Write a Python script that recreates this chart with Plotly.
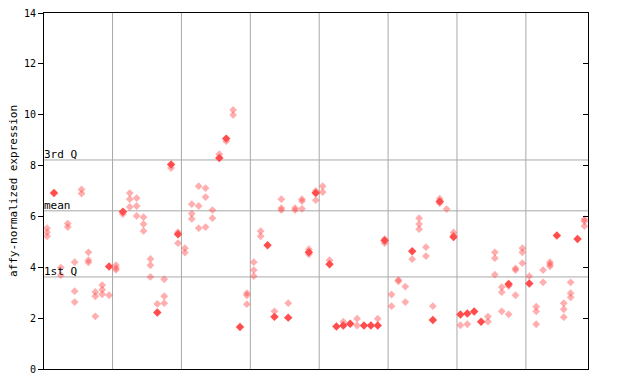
import plotly.graph_objects as go

# Per-sample expression values (sample index 0..78), open = other replicates, filled = highlighted
open_vals = [
    [5.54, 5.38, 5.22], [], [3.99, 3.69], [5.72, 5.58], [4.2, 3.06, 2.63],
    [7.06, 6.9], [4.59, 4.28, 4.19], [3.03, 2.86, 2.07], [3.3, 3.12, 2.94], [2.9],
    [4.08, 3.97, 3.9], [6.09], [6.92, 6.68, 6.37], [6.72, 6.41, 6.02], [5.97, 5.7, 5.43],
    [4.33, 4.08, 3.62], [2.56], [3.53, 2.86, 2.59], [7.9], [5.38, 4.95],
    [4.75, 4.58], [6.48, 6.11, 5.9], [7.19, 6.41, 5.54], [7.11, 6.76, 5.58], [6.25, 5.93],
    [8.45], [8.96], [10.19, 9.99], [], [2.98, 2.9, 2.55],
    [4.2, 3.89, 3.65], [5.42, 5.22], [], [2.27], [6.68, 6.33, 6.25],
    [2.59], [6.33, 6.25], [6.68, 6.6, 6.3], [4.71, 4.51], [7.0, 6.64],
    [7.19, 6.96], [4.28], [], [1.86], [],
    [1.98, 1.71], [], [], [1.98], [5.11, 4.95],
    [2.93, 2.47], [3.5, 3.45], [3.24, 2.63], [4.32], [5.93, 5.7, 5.5],
    [4.79, 4.44], [2.47], [6.7, 6.52], [6.29], [5.37, 5.25],
    [1.72], [1.76], [], [], [2.06, 1.86],
    [4.59, 4.36, 3.71], [3.22, 3.02, 2.27], [3.37, 3.26, 2.15], [3.96, 3.89, 2.9], [4.75, 4.59, 4.16],
    [3.65], [2.45, 2.27, 1.76], [3.89, 3.41], [4.2, 4.12, 4.04], [],
    [2.59, 2.35, 2.04], [3.41, 2.98, 2.82], [], [5.89, 5.81, 5.62],
]
filled_vals = [
    [], [6.92], [], [], [], [], [], [], [], [4.03],
    [], [6.18], [], [], [], [], [2.22], [], [8.04], [5.3],
    [], [], [], [], [], [8.3], [9.06], [], [1.65], [],
    [], [], [4.87], [2.05], [], [2.02], [], [], [4.59], [6.92],
    [], [4.12], [1.67], [1.71], [1.78], [], [1.71], [1.71], [1.71], [5.05],
    [], [], [], [4.63], [], [], [1.93], [6.59], [], [5.19],
    [2.14], [2.18], [2.26], [1.86], [], [], [], [3.33], [], [],
    [3.36], [], [], [], [5.25], [], [], [5.11], [],
]
group_sizes = [10, 10, 10, 10, 10, 10, 10, 9]
quartiles = {"3rd Q": 8.22, "mean": 6.22, "1st Q": 3.62}
y_ticks = [0, 2, 4, 6, 8, 10, 12, 14]

RED = "#ff4d4d"
FONT = "DejaVu Sans Mono"

ox, oy, fx, fy = [], [], [], []
for i, vals in enumerate(open_vals):
    ox += [i] * len(vals)
    oy += vals
for i, vals in enumerate(filled_vals):
    fx += [i] * len(vals)
    fy += vals

fig = go.Figure()
fig.add_trace(go.Scatter(x=ox, y=oy, mode="markers",
                         marker=dict(symbol="diamond", size=6, color="rgba(255,77,77,0.45)",
                                     line=dict(width=0)),
                         showlegend=False))
fig.add_trace(go.Scatter(x=fx, y=fy, mode="markers",
                         marker=dict(symbol="diamond", size=6.5, color=RED, line=dict(width=0)),
                         showlegend=False))
# invisible trace for right-side axis ticks
fig.add_trace(go.Scatter(x=[0], y=[0], yaxis="y2", mode="markers",
                         marker=dict(opacity=0), showlegend=False, hoverinfo="skip"))

shapes = []
boundary = -0.5
for g in group_sizes[:-1]:
    boundary += g
    shapes.append(dict(type="line", xref="x", yref="paper", x0=boundary, x1=boundary,
                       y0=0, y1=1, line=dict(color="#a8a8a8", width=1), layer="below"))
annotations = []
for label, val in quartiles.items():
    shapes.append(dict(type="line", xref="paper", yref="y", x0=0, x1=1, y0=val, y1=val,
                       line=dict(color="#a8a8a8", width=1), layer="below"))
    annotations.append(dict(x=0, xref="paper", y=val, yref="y", text=label, showarrow=False,
                            xanchor="left", yanchor="bottom", yshift=-3, xshift=-2,
                            font=dict(family=FONT, size=11, color="black")))

n = sum(group_sizes)
fig.update_layout(
    width=640, height=384,
    margin=dict(l=44, r=52, t=13, b=15),
    paper_bgcolor="white", plot_bgcolor="white",
    xaxis=dict(range=[-0.45, n - 0.48], showticklabels=False, ticks="", showgrid=False,
               zeroline=False, showline=True, linecolor="black", linewidth=1, mirror=True,
               automargin=False),
    yaxis=dict(range=[0, 14], tickvals=y_ticks, ticks="outside", ticklen=5, tickcolor="black",
               showgrid=False, zeroline=False, showline=True, linecolor="black", linewidth=1,
               mirror=True, automargin=False, tickfont=dict(family=FONT, size=10, color="black"),
               title=dict(text="affy-normalized expression", standoff=4,
                          font=dict(family=FONT, size=11, color="black"))),
    yaxis2=dict(range=[0, 14], tickvals=y_ticks, overlaying="y", side="right", ticks="inside",
                ticklen=5, tickcolor="black", showticklabels=False, showgrid=False,
                zeroline=False, showline=False, automargin=False),
    shapes=shapes, annotations=annotations,
)
fig.write_html("out.html", config={"displayModeBar": False},
               post_script="document.body.style.margin='0';")
